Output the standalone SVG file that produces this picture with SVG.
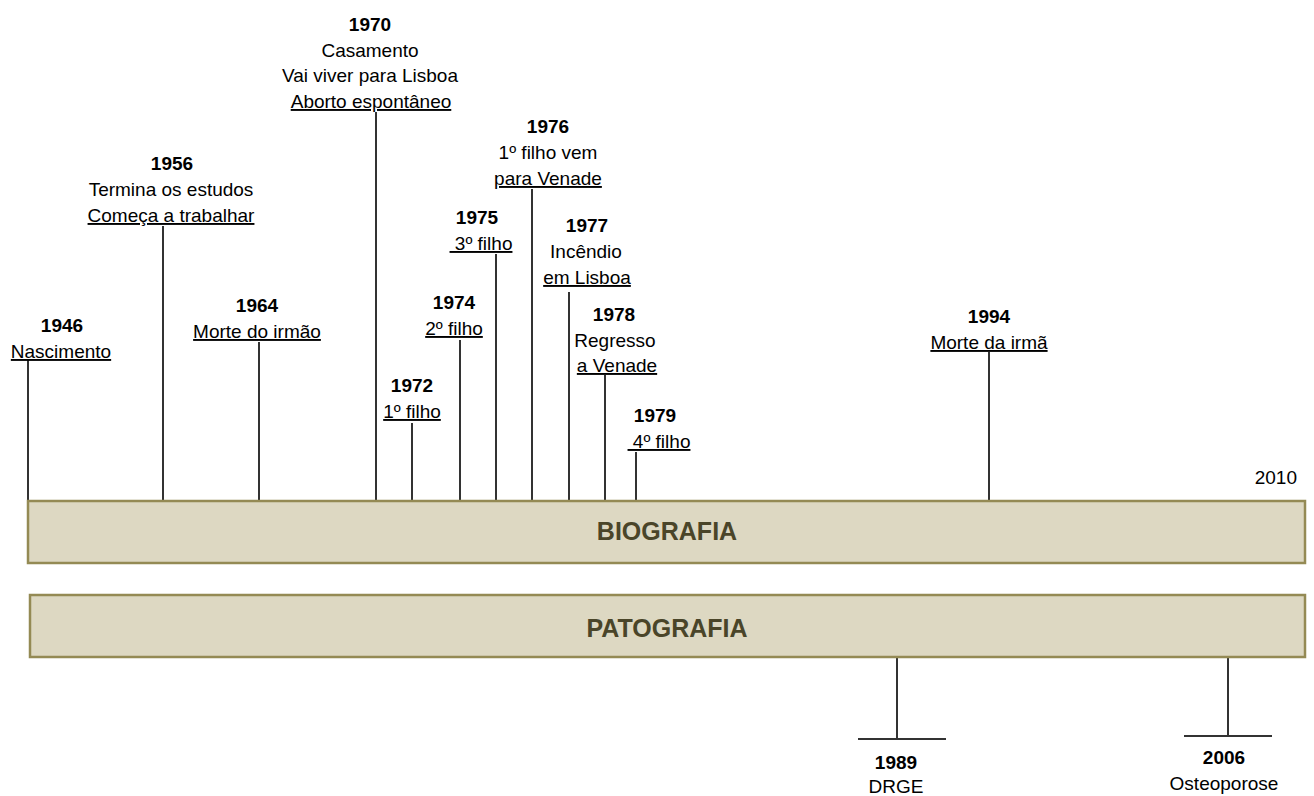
<svg xmlns="http://www.w3.org/2000/svg" width="1314" height="796" viewBox="0 0 1314 796">
<style>
text{font-family:"Liberation Sans",Arial,sans-serif;font-size:19px;fill:#000;text-anchor:middle}
.y{font-weight:bold}
.u{text-decoration:underline}
.bar{fill:#ddd8c2;stroke:#948a54;stroke-width:2.5}
.bt{font-size:25px;font-weight:bold;fill:#4a4529}
.c line{stroke:#333;stroke-width:2}
</style>
<rect width="1314" height="796" fill="#fff"/>
<g id="connectors" class="c">
<line x1="28" y1="360" x2="28" y2="502"/>
<line x1="163" y1="226" x2="163" y2="502"/>
<line x1="259" y1="342" x2="259" y2="502"/>
<line x1="376" y1="112" x2="376" y2="502"/>
<line x1="412" y1="423" x2="412" y2="502"/>
<line x1="460" y1="340" x2="460" y2="502"/>
<line x1="496" y1="254" x2="496" y2="502"/>
<line x1="532" y1="189" x2="532" y2="502"/>
<line x1="569" y1="292" x2="569" y2="502"/>
<line x1="605" y1="375" x2="605" y2="502"/>
<line x1="636" y1="452" x2="636" y2="502"/>
<line x1="989" y1="352" x2="989" y2="502"/>
<line x1="897" y1="657" x2="897" y2="739"/>
<line x1="858" y1="739" x2="946" y2="739"/>
<line x1="1228" y1="657" x2="1228" y2="736"/>
<line x1="1184" y1="736" x2="1272" y2="736"/>
</g>
<g id="biografia"><rect class="bar" x="28" y="501" width="1277" height="62"/><text class="bt" x="667" y="540">BIOGRAFIA</text></g>
<g id="patografia"><rect class="bar" x="30" y="595" width="1275" height="62"/><text class="bt" x="667" y="637">PATOGRAFIA</text></g>
<g id="e1946"><text class="y" x="62" y="332">1946</text><text class="u" x="61" y="358">Nascimento</text></g>
<g id="e1956"><text class="y" x="172" y="170">1956</text><text x="171" y="196">Termina os estudos</text><text class="u" x="171" y="222">Começa a trabalhar</text></g>
<g id="e1964"><text class="y" x="257" y="312">1964</text><text class="u" x="257" y="338">Morte do irmão</text></g>
<g id="e1970"><text class="y" x="370" y="31">1970</text><text x="370" y="57">Casamento</text><text x="370" y="82">Vai viver para Lisboa</text><text class="u" x="371" y="108">Aborto espontâneo</text></g>
<g id="e1972"><text class="y" x="412" y="392">1972</text><text class="u" x="412" y="418">1º filho</text></g>
<g id="e1974"><text class="y" x="454" y="309">1974</text><text class="u" x="454" y="335">2º filho</text></g>
<g id="e1975"><text class="y" x="477" y="224">1975</text><text class="u" x="481" y="250" xml:space="preserve"> 3º filho</text></g>
<g id="e1976"><text class="y" x="548" y="133">1976</text><text x="548" y="159">1º filho vem</text><text class="u" x="548" y="185">para Venade</text></g>
<g id="e1977"><text class="y" x="587" y="232">1977</text><text x="586" y="258">Incêndio</text><text class="u" x="587" y="284">em Lisboa</text></g>
<g id="e1978"><text class="y" x="614" y="321">1978</text><text x="615" y="347">Regresso</text><text class="u" x="617" y="372">a Venade</text></g>
<g id="e1979"><text class="y" x="655" y="422">1979</text><text class="u" x="659" y="448" xml:space="preserve"> 4º filho</text></g>
<g id="e1994"><text class="y" x="989" y="323">1994</text><text class="u" x="989" y="349">Morte da irmã</text></g>
<g id="e2010"><text x="1297" y="484" style="text-anchor:end">2010</text></g>
<g id="e1989"><text class="y" x="896" y="769">1989</text><text x="896" y="793">DRGE</text></g>
<g id="e2006"><text class="y" x="1224" y="764">2006</text><text x="1224" y="790">Osteoporose</text></g>
</svg>
